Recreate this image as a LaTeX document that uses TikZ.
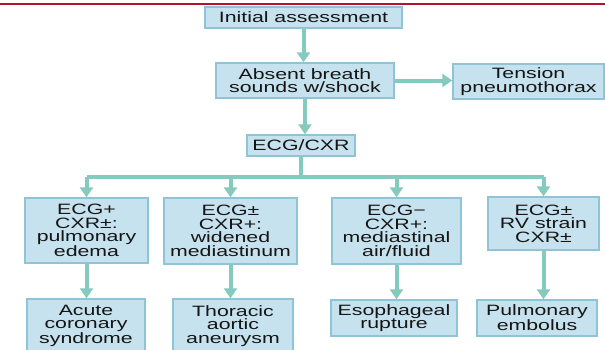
\documentclass[tikz,border=0pt]{standalone}
\usepackage{fontspec}
\setmainfont{Liberation Sans}[FakeStretch=1.42]
\usetikzlibrary{arrows.meta}
\definecolor{boxfill}{HTML}{C6E2EE}
\definecolor{boxline}{HTML}{8EC4D6}
\definecolor{flow}{HTML}{84CBBE}
\definecolor{rulered}{HTML}{B3122F}
\definecolor{ink}{HTML}{151515}
\begin{document}
\begin{tikzpicture}[x=1pt,y=-1pt,
  box/.style={draw=boxline, fill=boxfill, line width=1.4pt, inner sep=0pt,
    align=center, text=ink, font=\fontsize{15}{13.6}\selectfont},
  flowline/.style={draw=flow, line width=4pt},
  flowarrow/.style={flowline, -{Triangle[width=13pt,length=10pt]}}]
\useasboundingbox (0,0) rectangle (605,349);
% header rule
\draw[rulered, line width=1.5pt] (0,4) -- (605,4);

% top of the flow
\node[box, minimum width=197pt, minimum height=21pt] (init) at (303.5,17.5) {Initial assessment};
\node[box, minimum width=178pt, minimum height=35pt] (absent) at (305,80.5) {Absent breath\\sounds w/shock};
\node[box, minimum width=151pt, minimum height=35pt] (tension) at (528.5,81.5) {Tension\\pneumothorax};
\node[box, minimum width=108pt, minimum height=21pt] (ecg) at (301,145.5) {ECG/CXR};

% findings
\node[box, minimum width=123pt, minimum height=65pt] (c1) at (86.5,230.5) {ECG+\\CXR±:\\pulmonary\\edema};
\node[box, minimum width=133pt, minimum height=66pt] (c2) at (230.5,231) {ECG±\\CXR+:\\widened\\mediastinum};
\node[box, minimum width=129pt, minimum height=66pt] (c3) at (396.5,231) {ECG−\\CXR+:\\mediastinal\\air/fluid};
\node[box, minimum width=111pt, minimum height=53pt] (c4) at (543.5,223.5) {ECG±\\RV strain\\CXR±};

% diagnoses
\node[box, minimum width=118pt, minimum height=54pt] (r1) at (86,326) {Acute\\coronary\\syndrome};
\node[box, minimum width=120pt, minimum height=54pt] (r2) at (233,326) {Thoracic\\aortic\\aneurysm};
\node[box, minimum width=126pt, minimum height=36pt] (r3) at (394,318) {Esophageal\\rupture};
\node[box, minimum width=120pt, minimum height=36pt] (r4) at (537,318) {Pulmonary\\embolus};

% connectors
\coordinate (bus) at (0,177);
\draw[flowarrow] (init.south) -- (init.south |- absent.north);
\draw[flowarrow] (absent.east) -- (tension.west |- absent.east);
\draw[flowarrow] (absent.south) -- (absent.south |- ecg.north);
\draw[flowline] (ecg.south) -- (ecg.south |- bus);
\draw[flowline, line cap=square] (c1.north |- bus) -- (c4.north |- bus);
\foreach \c in {c1,c2,c3,c4}
  \draw[flowarrow] (\c.north |- bus) -- (\c.north);
\draw[flowarrow] (c1.south) -- (c1.south |- r1.north);
\draw[flowarrow] (c2.south) -- (c2.south |- r2.north);
\draw[flowarrow] (c3.south) -- (c3.south |- r3.north);
\draw[flowarrow] (c4.south) -- (c4.south |- r4.north);
\end{tikzpicture}
\end{document}
